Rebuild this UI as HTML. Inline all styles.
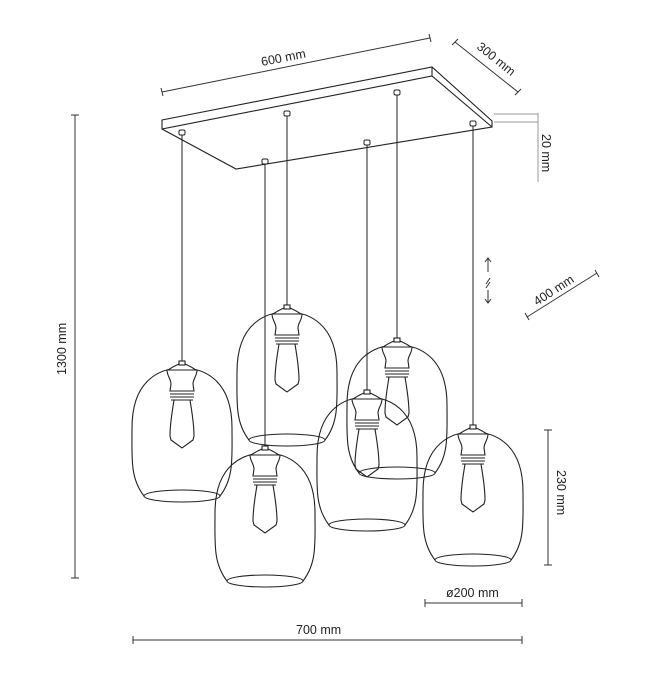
<!DOCTYPE html>
<html><head><meta charset="utf-8"><style>
html,body{margin:0;padding:0;background:#fff;}
svg{display:block;}
text{font-family:"Liberation Sans",sans-serif;font-size:12.5px;fill:#222;}
</style></head><body>
<svg width="650" height="677" viewBox="0 0 650 677" xmlns="http://www.w3.org/2000/svg">
<defs>
<g id="lamp" fill="none" stroke="#222" stroke-width="1.1">
  <path d="M-38,128 C-52,110 -50,90 -50,60 C-50,10 -20,0 0,0 C20,0 50,10 50,60 C50,90 52,110 38,128"/>
  <ellipse cx="0" cy="128" rx="38" ry="6"/>
  <path d="M-14,2 C-8,-2 -5,-3 -3,-4 L3,-4 C5,-3 8,-2 14,2" fill="#fff"/>
  <rect x="-3" y="-7" width="6" height="4" fill="#fff"/>
  <path d="M-15,2 L15,2 C15,8 11,11 11,16 L12,23 L-12,23 L-11,16 C-11,11 -15,8 -15,2 Z" fill="#fff"/>
  <path d="M-12,23 H12 M-12,26 H12 M-12,29 H12 M-11,32 H11"/>
  <path d="M-8,32 C-10,45 -12,55 -12,68 L-11,72 L0,80 L11,72 L12,68 C12,55 10,45 8,32"/>
</g>
<g id="mount" fill="#fff" stroke="#222" stroke-width="1"><rect x="-3" y="-3" width="6" height="5" rx="1.5"/></g>
</defs>

<g fill="none" stroke="#222" stroke-width="1.1">
  <path d="M162,120 L432,67 L492,121 L492,127 L236,169 L162,129 Z" fill="#fff"/>
  <path d="M162,129 L432,76 L492,127"/>
  <path d="M432,67 L432,76"/>
</g>

<g stroke="#222" stroke-width="1">
  <line x1="182" y1="134" x2="182" y2="362"/>
  <line x1="265" y1="163" x2="265" y2="447"/>
  <line x1="287" y1="115" x2="287" y2="306"/>
  <line x1="367" y1="144" x2="367" y2="391"/>
  <line x1="397" y1="94" x2="397" y2="339"/>
  <line x1="473" y1="125" x2="473" y2="426"/>
</g>
<use href="#mount" x="182" y="133"/>
<use href="#mount" x="265" y="162"/>
<use href="#mount" x="287" y="114"/>
<use href="#mount" x="367" y="143"/>
<use href="#mount" x="397" y="93"/>
<use href="#mount" x="473" y="124"/>

<use href="#lamp" x="287" y="312"/>
<use href="#lamp" x="397" y="345"/>
<use href="#lamp" x="182" y="368"/>
<use href="#lamp" x="367" y="397"/>
<use href="#lamp" x="473" y="432"/>
<use href="#lamp" x="265" y="453"/>

<g stroke="#333" stroke-width="1" fill="none">
  <line x1="162" y1="92" x2="430" y2="38"/>
  <line x1="161" y1="88" x2="163" y2="96"/>
  <line x1="429" y1="34" x2="431" y2="42"/>
  <line x1="455" y1="42" x2="518" y2="92"/>
  <line x1="452" y1="45" x2="458" y2="39"/>
  <line x1="515" y1="95" x2="521" y2="89"/>
  <path d="M494,114 H538 M494,122 H538 M538,113 V182" stroke="#999"/>
  <line x1="75" y1="115" x2="75" y2="578"/>
  <line x1="71" y1="115" x2="79" y2="115"/>
  <line x1="71" y1="578" x2="79" y2="578"/>
  <path d="M488,258 V272 M485,262 L488,258 L491,262 M486,284 L490,278 M486,288 L490,282 M488,290 V303 M485,299 L488,303 L491,299"/>
  <line x1="527" y1="317" x2="597" y2="273"/>
  <line x1="525" y1="313" x2="529" y2="320"/>
  <line x1="595" y1="270" x2="599" y2="277"/>
  <line x1="548" y1="430" x2="548" y2="565"/>
  <line x1="544" y1="430" x2="552" y2="430"/>
  <line x1="544" y1="565" x2="552" y2="565"/>
  <line x1="425" y1="603" x2="522" y2="603"/>
  <line x1="425" y1="599" x2="425" y2="607"/>
  <line x1="522" y1="599" x2="522" y2="607"/>
  <line x1="133" y1="640" x2="522" y2="640"/>
  <line x1="133" y1="636" x2="133" y2="644"/>
  <line x1="522" y1="636" x2="522" y2="644"/>
</g>
<text transform="translate(262,66) rotate(-11)">600 mm</text>
<text transform="translate(476,48) rotate(39)">300 mm</text>
<text transform="translate(542,134) rotate(90)">20 mm</text>
<text transform="translate(66,375) rotate(-90)">1300 mm</text>
<text transform="translate(537,306) rotate(-33)">400 mm</text>
<text transform="translate(557,470) rotate(90)">230 mm</text>
<text x="446" y="597">ø200 mm</text>
<text x="296" y="634">700 mm</text>
</svg>
</body></html>
